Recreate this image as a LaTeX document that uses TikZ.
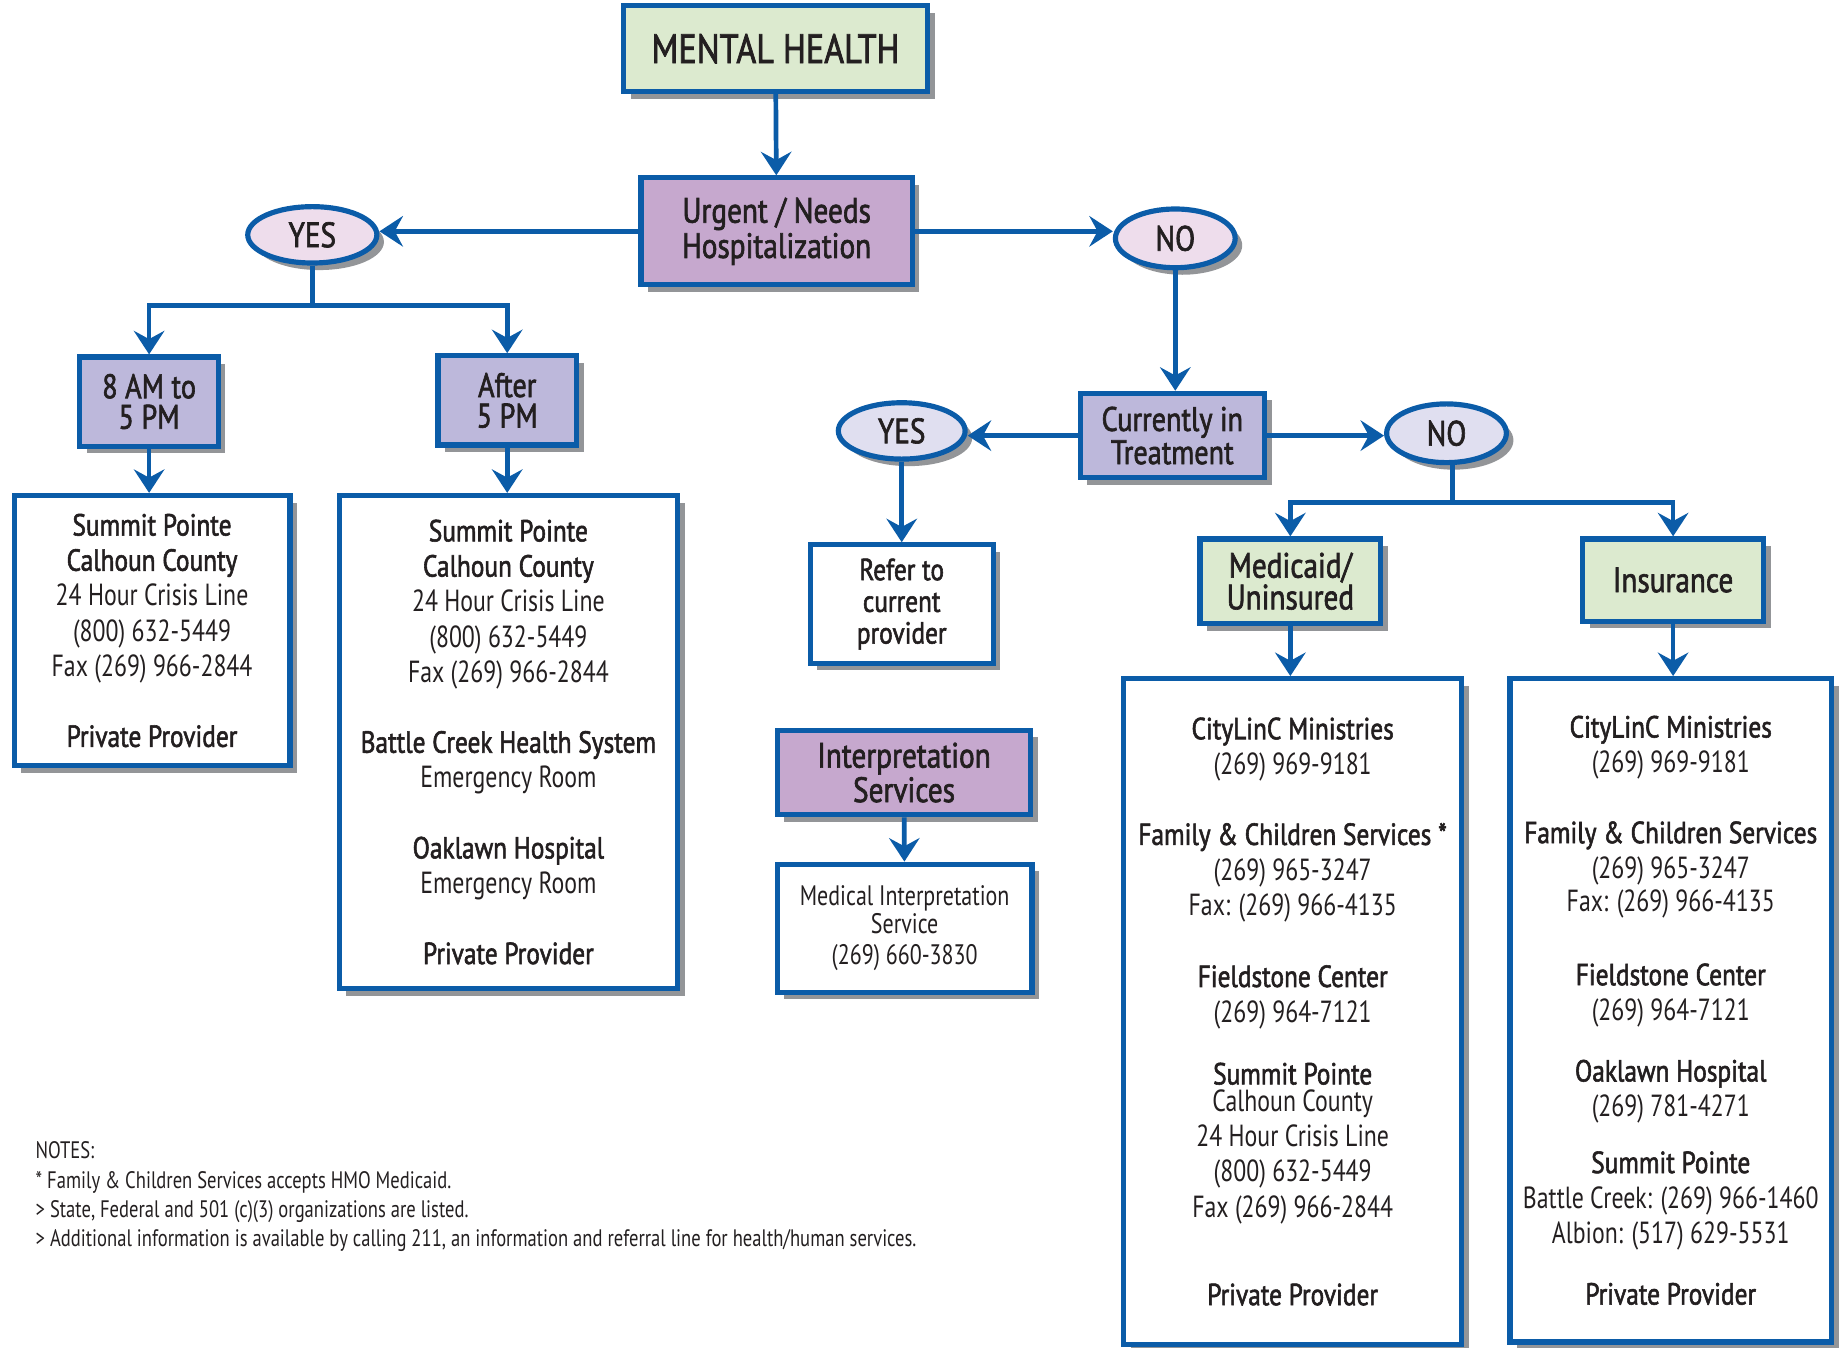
\documentclass[tikz,border=0pt]{standalone}
\usepackage{fontspec}
\setmainfont{PT Sans}[FakeStretch=0.78, BoldFont={PT Sans}, BoldFeatures={FakeBold=1.8, FakeStretch=0.83}]
\usetikzlibrary{arrows.meta, shadows, shapes.geometric}
\definecolor{FlowBlue}{HTML}{0B5CA8}
\definecolor{ShadowGray}{HTML}{939598}
\definecolor{BoxGreen}{HTML}{DCEACF}
\definecolor{BoxPurple}{HTML}{C6A8CE}
\definecolor{BoxLavender}{HTML}{BDB8DB}
\definecolor{OvalPink}{HTML}{EEDDEC}
\definecolor{OvalLilac}{HTML}{E0DFF0}
\definecolor{InkGray}{HTML}{231F20}
\newcommand{\listfont}{\fontsize{13}{15}\selectfont}
\newcommand{\labelfont}[2]{\fontsize{#1}{#2}\selectfont\bfseries}
\newcommand{\servicefont}{\fontsize{12}{12}\selectfont}

\begin{document}
\begin{tikzpicture}[x=0.5pt, y=-0.5pt,
    box/.style={draw=FlowBlue, line width=2.2pt, text=InkGray, align=center, inner sep=0pt,
        drop shadow={shadow xshift=3pt, shadow yshift=-3pt, fill=ShadowGray, opacity=1}},
    oval/.style={ellipse, box, font=\labelfont{15}{15}},
    conn/.style={draw=FlowBlue, line width=2pt},
    flow/.style={conn, -{Stealth[length=10pt, width=13pt, inset=3.5pt]}}]
    \useasboundingbox (0,0) rectangle (1568,1148);
    % top of the chart
    \node[box, fill=BoxGreen, minimum width=129.5pt, minimum height=36.5pt, font=\labelfont{17.5}{20}] (mh) at (660.5,41.5) {MENTAL HEALTH};
    \node[box, fill=BoxPurple, minimum width=115.5pt, minimum height=45.5pt, font=\labelfont{15}{15}] (urgent) at (661.5,197) {Urgent / Needs\\Hospitalization};
    \node[oval, fill=OvalPink, minimum width=55pt, minimum height=24pt] (yes1) at (266,200) {YES};
    \node[oval, fill=OvalPink, minimum width=51pt, minimum height=25pt] (no1) at (1001,203) {NO};
    % yes branch
    \node[box, fill=BoxLavender, minimum width=59pt, minimum height=38pt, font=\labelfont{14.5}{13}] (am) at (127,342) {8 AM to\\5 PM};
    \node[box, fill=BoxLavender, minimum width=59pt, minimum height=38pt, font=\labelfont{14.5}{13}] (after) at (432,341) {After\\5 PM};
    \node[box, fill=white, minimum width=117.5pt, minimum height=115pt, font=\listfont] (lbox1) at (129.5,537)
        {\textbf{Summit Pointe}\\\textbf{Calhoun County}\\24 Hour Crisis Line\\(800) 632-5449\\Fax (269) 966-2844\\[15pt]\textbf{Private Provider}};
    \node[box, fill=white, minimum width=144pt, minimum height=210pt, font=\listfont] (lbox2) at (433,632)
        {\textbf{Summit Pointe}\\\textbf{Calhoun County}\\24 Hour Crisis Line\\(800) 632-5449\\Fax (269) 966-2844\\[15pt]\textbf{Battle Creek Health System}\\Emergency Room\\[15pt]\textbf{Oaklawn Hospital}\\Emergency Room\\[15pt]\textbf{Private Provider}};
    % no branch
    \node[box, fill=BoxLavender, minimum width=78.5pt, minimum height=36pt, font=\labelfont{14.5}{13}] (cur) at (998.5,371) {Currently in\\Treatment};
    \node[oval, fill=OvalLilac, minimum width=54pt, minimum height=24pt] (yes2) at (768,367) {YES};
    \node[oval, fill=OvalLilac, minimum width=51pt, minimum height=25pt] (no2) at (1232,369) {NO};
    \node[box, fill=white, minimum width=78pt, minimum height=50.5pt, font=\labelfont{13}{13.5}] (refer) at (768,514.5) {Refer to\\current\\provider};
    \node[box, fill=BoxGreen, minimum width=77pt, minimum height=36pt, font=\labelfont{15}{13.5}] (medicaid) at (1099,495) {Medicaid/\\Uninsured};
    \node[box, fill=BoxGreen, minimum width=77pt, minimum height=35pt, font=\labelfont{15}{13.5}] (insur) at (1425,494) {Insurance};
    \node[box, fill=white, minimum width=144pt, minimum height=283.5pt, font=\listfont] (rbox1) at (1101,861.5)
        {\textbf{CityLinC Ministries}\\(269) 969-9181\\[15pt]\textbf{Family \& Children Services *}\\(269) 965-3247\\Fax: (269) 966-4135\\[15.5pt]\textbf{Fieldstone Center}\\(269) 964-7121\\[11.5pt]\textbf{Summit Pointe}\\[-3.5pt]Calhoun County\\24 Hour Crisis Line\\(800) 632-5449\\Fax (269) 966-2844\\[22.5pt]\textbf{Private Provider}};
    \node[box, fill=white, minimum width=137pt, minimum height=282.5pt, font=\listfont] (rbox2) at (1423,860.5)
        {\textbf{CityLinC Ministries}\\(269) 969-9181\\[15pt]\textbf{Family \& Children Services}\\(269) 965-3247\\[-1pt]Fax: (269) 966-4135\\[16.5pt]\textbf{Fieldstone Center}\\(269) 964-7121\\[11pt]\textbf{Oaklawn Hospital}\\(269) 781-4271\\[9pt]\textbf{Summit Pointe}\\Battle Creek: (269) 966-1460\\Albion: (517) 629-5531\\[11pt]\textbf{Private Provider}};
    % interpretation
    \node[box, fill=BoxPurple, minimum width=108pt, minimum height=36pt, font=\labelfont{15}{13.5}] (interp) at (770,658) {Interpretation\\Services};
    \node[box, fill=white, minimum width=108.5pt, minimum height=54.5pt, font=\servicefont] (medint) at (770.5,790.5) {Medical Interpretation\\Service\\[1.5pt](269) 660-3830};
    % notes
    \node[anchor=north west, inner sep=0pt, align=left, text=InkGray, font=\fontsize{10.15}{12.5}\selectfont] (notes) at (30,972)
        {NOTES:\\{*} Family \& Children Services accepts HMO Medicaid.\\> State, Federal and 501 (c)(3) organizations are listed.\\> Additional information is available by calling 211, an information and referral line for health/human services.};
    % connectors
    \draw[flow] (mh) -- (urgent);
    \draw[flow] (urgent.west) -- (urgent.west -| yes1.east);
    \draw[flow] (urgent.east) -- (urgent.east -| no1.west);
    \coordinate (yessplit) at (266,260);
    \draw[conn] (yes1.south) -- (yessplit);
    \draw[flow] (yessplit) -| (am.north);
    \draw[flow] (yessplit) -| (after.north);
    \draw[flow] (am) -- (am |- lbox1.north);
    \draw[flow] (after) -- (after |- lbox2.north);
    \draw[flow] (no1.south) -- (no1.south |- cur.north);
    \draw[flow] (cur.west) -- (cur.west -| yes2.east);
    \draw[flow] (cur.east) -- (cur.east -| no2.west);
    \draw[flow] (yes2) -- (refer);
    \coordinate (nosplit) at (1237,428);
    \draw[conn] (no2.south -| nosplit) -- (nosplit);
    \draw[flow] (nosplit) -| (medicaid.north);
    \draw[flow] (nosplit) -| (insur.north);
    \draw[flow] (medicaid) -- (medicaid |- rbox1.north);
    \draw[flow] (insur) -- (insur |- rbox2.north);
    \draw[flow] (interp) -- (medint);
\end{tikzpicture}
\end{document}
